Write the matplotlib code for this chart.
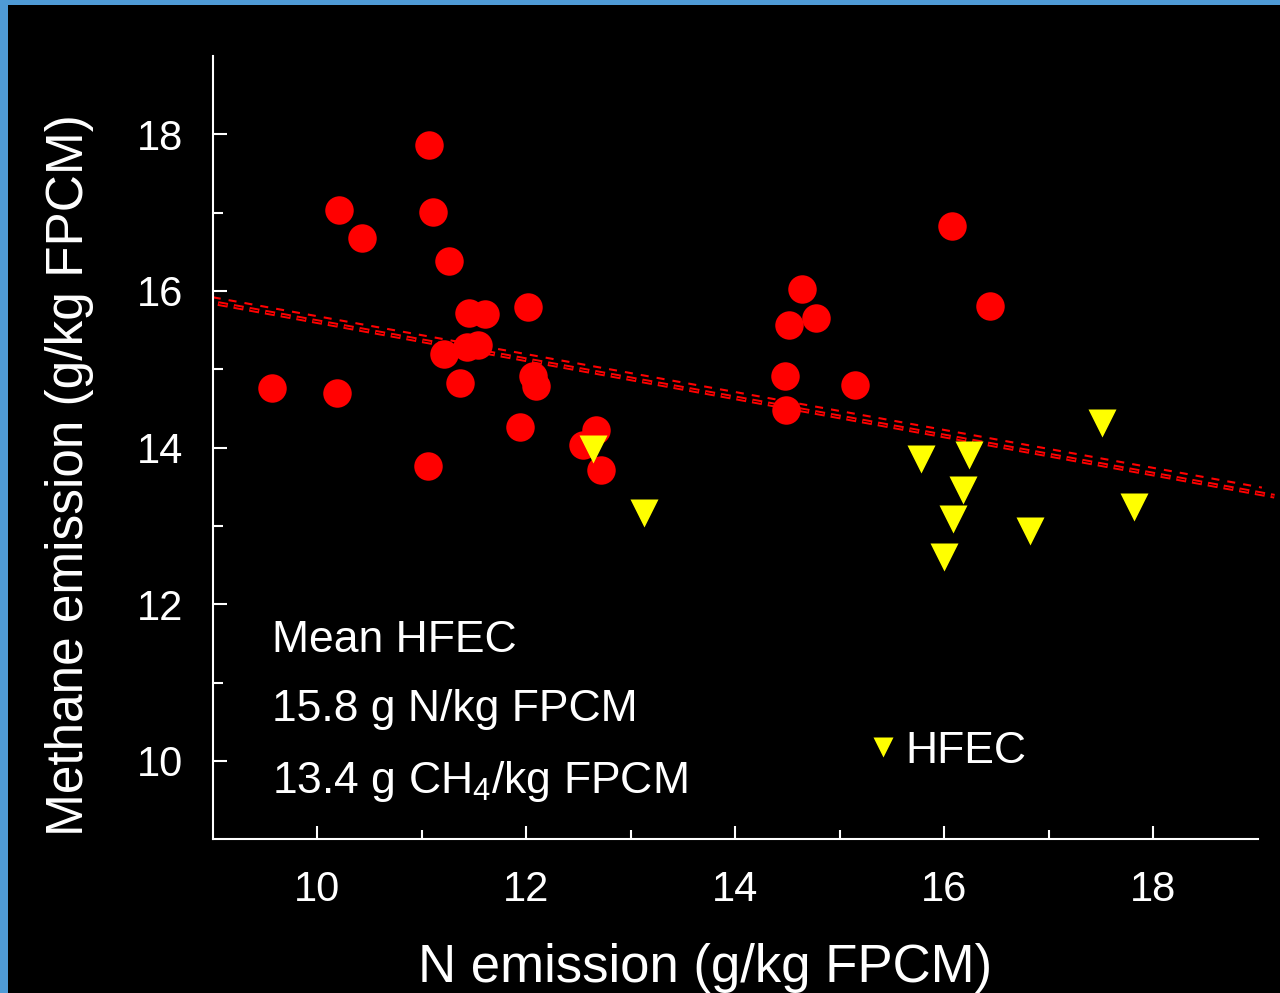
import matplotlib
matplotlib.use("Agg")
import matplotlib.pyplot as plt
from matplotlib.patches import Rectangle


# ---------------------------
# Data.
# ---------------------------
# Red circles: all cows
all_n = [11.07, 10.21, 11.11, 10.43, 11.26, 11.45, 11.61, 12.02, 11.21, 11.43,
         11.54, 9.57, 10.19, 11.37, 12.06, 12.09, 11.94, 11.06, 12.54, 12.67,
         12.72, 16.07, 14.64, 14.51, 14.77, 16.44, 14.48, 15.15, 14.49]
all_ch4 = [17.86, 17.04, 17.01, 16.68, 16.38, 15.72, 15.70, 15.79, 15.20, 15.28,
           15.31, 14.76, 14.70, 14.82, 14.92, 14.79, 14.26, 13.76, 14.03, 14.23,
           13.72, 16.83, 16.03, 15.56, 15.66, 15.81, 14.92, 14.80, 14.48]

# Yellow triangles: HFEC cows
hfec_n = [12.64, 13.13, 15.78, 16.24, 16.18, 16.08, 16.00, 16.82, 17.51, 17.82]
hfec_ch4 = [13.98, 13.17, 13.85, 13.90, 13.46, 13.09, 12.60, 12.93, 14.32, 13.24]

# Regression lines (two nearly overlapping fits)
fit_upper_x = [9.0, 19.04]
fit_upper_y = [15.92, 13.49]
fit_lower_x = [9.05, 19.16]
fit_lower_y = [15.84, 13.38]

x_ticks = [10, 12, 14, 16, 18]
y_ticks = [10, 12, 14, 16, 18]
x_minor = [11, 13, 15, 17]
y_minor = [11, 13, 15, 17]

note_lines = ["Mean HFEC",
              "15.8 g N/kg FPCM",
              r"13.4 g CH$_\mathregular{4}$/kg FPCM"]


plt.rcParams["font.family"] = "Liberation Sans"
plt.rcParams["mathtext.fontset"] = "custom"
plt.rcParams["mathtext.rm"] = "Liberation Sans"
plt.rcParams["lines.scale_dashes"] = False

fig = plt.figure(figsize=(12.8, 9.93), dpi=100, facecolor="#4f9bd6")
# black slide area, blue strip shows only on the left and top
fig.patches.append(Rectangle((8 / 1280, 0), 1 - 8 / 1280, 1 - 5 / 993,
                             transform=fig.transFigure, facecolor="black",
                             edgecolor="none", zorder=-10))

ax = fig.add_axes([0.1662, 0.1548, 0.8164, 0.7888])
ax.set_facecolor("black")

# fit lines first so the markers sit on top
ax.plot(fit_upper_x, fit_upper_y, color="red", lw=1.5,
        linestyle=(0, (5.8, 5.8)), clip_on=False, zorder=2)
ax.plot(fit_lower_x, fit_lower_y, color="red", lw=3.4,
        linestyle=(0, (7.2, 4.3)), clip_on=False, zorder=2)
ax.plot(fit_lower_x, fit_lower_y, color="black", lw=0.6,
        linestyle=(10.8, (5.6, 5.9)), clip_on=False, zorder=2)

ax.plot(all_n, all_ch4, "o", color="red", ms=20.5, mec="none", zorder=3)
hfec_line, = ax.plot(hfec_n, hfec_ch4, "v", color="yellow", ms=20.5,
                     mec="none", zorder=4)

ax.set_xlim(9, 19)
ax.set_ylim(9, 19)
ax.set_xticks(x_ticks)
ax.set_yticks(y_ticks)
ax.set_xticks(x_minor, minor=True)
ax.set_yticks(y_minor, minor=True)

for side in ["top", "right"]:
    ax.spines[side].set_visible(False)
for side in ["left", "bottom"]:
    ax.spines[side].set_color("white")
    ax.spines[side].set_linewidth(1.5)

ax.tick_params(which="both", direction="in", colors="white", width=1.5,
               labelsize=30)
ax.tick_params(axis="y", which="major", length=10, pad=21.4)
ax.tick_params(axis="y", which="minor", length=7.2)
ax.tick_params(axis="x", which="major", length=9.5, pad=22)
ax.tick_params(axis="x", which="minor", length=6.5)

ax.set_xlabel("N emission (g/kg FPCM)", fontsize=38, color="white", va="baseline")
ax.xaxis.set_label_coords(0.471, -0.1822)
ax.set_ylabel("Methane emission (g/kg FPCM)", fontsize=37, color="white", va="baseline")
ax.yaxis.set_label_coords(-0.1241, 0.465)

# annotation block
for text, yfrac in zip(note_lines, [0.2395, 0.1514, 0.0595]):
    ax.text(0.0565, yfrac, text, transform=ax.transAxes, fontsize=32,
            color="white", va="baseline", ha="left")

ax.legend([hfec_line], ["HFEC"], loc="lower left", bbox_to_anchor=(0.631, 0.086),
          frameon=False, borderpad=0, borderaxespad=0, handlelength=0.5,
          handletextpad=0.25, markerscale=0.68, fontsize=32, labelcolor="white")

fig.savefig("out.png", dpi=100, facecolor=fig.get_facecolor())
